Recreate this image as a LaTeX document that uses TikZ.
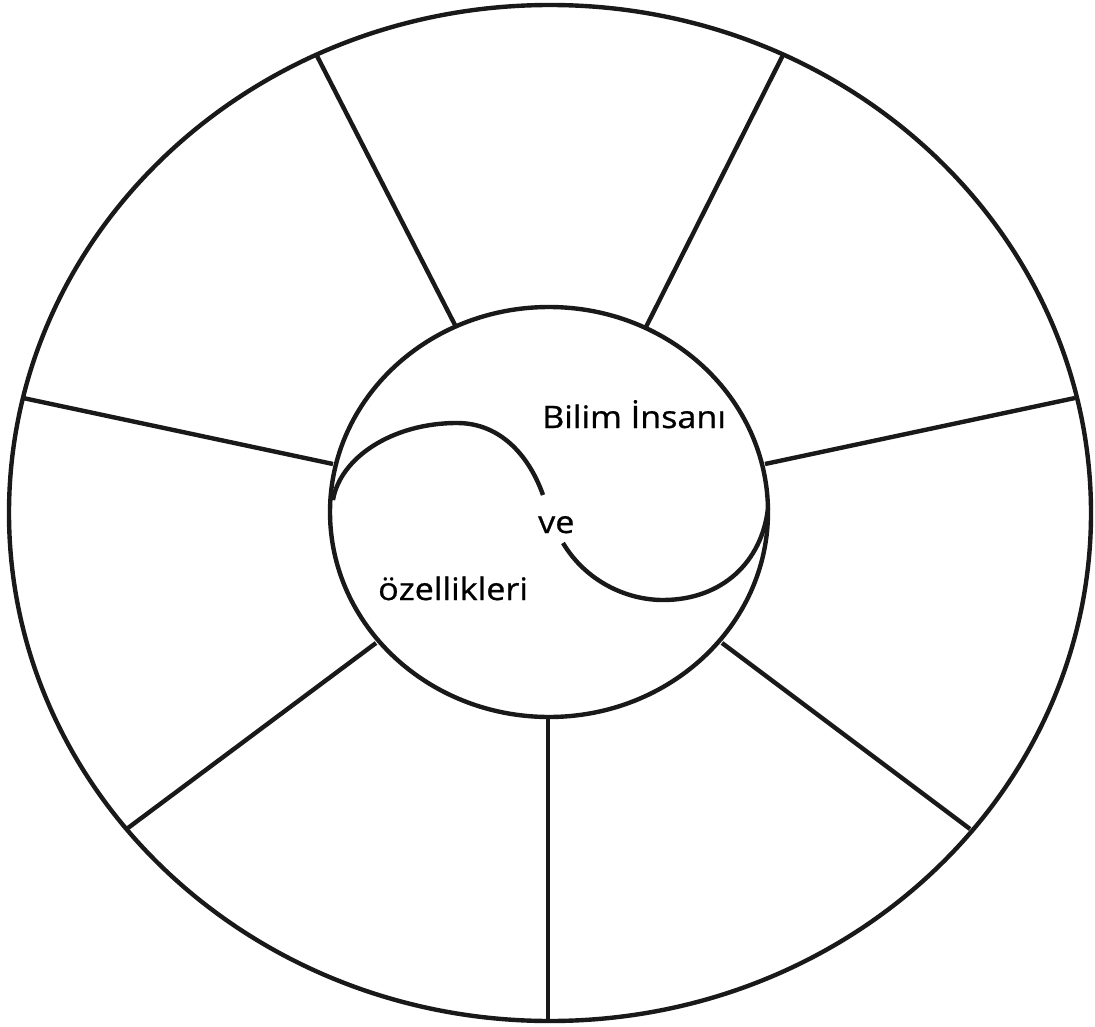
\documentclass[tikz,border=0pt]{standalone}
\usepackage{fontspec}
\newfontfamily\lblfont[FakeStretch=1.1,FakeBold=0.8]{Open Sans}
\begin{document}
\begin{tikzpicture}[x=1pt,y=-1pt,
  line/.style={line width=4.4pt,black!90},
  lbl/.style={inner sep=0pt,anchor=base west,font=\lblfont\fontsize{31}{36}\selectfont,text=black}]
\useasboundingbox (0,0) rectangle (1095,1027);
% centres
\coordinate (oc) at (550,513);
\coordinate (ic) at (549,512);
% outer and inner ellipses
\draw[line] (oc) ellipse [x radius=541, y radius=508];
\draw[line] (ic) ellipse [x radius=219, y radius=205];
% spoke end points
\coordinate (o1) at (316,54);   \coordinate (i1) at (455,325);
\coordinate (o2) at (783,55);   \coordinate (i2) at (646,327);
\coordinate (o3) at (23,398);   \coordinate (i3) at (333,464);
\coordinate (o4) at (1075,398); \coordinate (i4) at (765,464);
\coordinate (o5) at (128,828);  \coordinate (i5) at (376,643);
\coordinate (o6) at (970,829);  \coordinate (i6) at (722,643);
\coordinate (o7) at (548,1021); \coordinate (i7) at (548,717);
\foreach \k in {1,...,7} \draw[line] (o\k) -- (i\k);
% S curve
\coordinate (s1) at (333,500);
\coordinate (s2) at (457,423);
\coordinate (s3) at (543,495);
\coordinate (t1) at (563,543);
\coordinate (t2) at (663,600);
\coordinate (t3) at (768,508);
\draw[line] (s1) .. controls (340,458) and (392,423) .. (s2)
               .. controls (502,423) and (530,458) .. (s3);
\draw[line] (t1) .. controls (585,580) and (625,600) .. (t2)
               .. controls (722,600) and (762,562) .. (t3);
% labels
\node[lbl] (a) at (542,428) {Bilim İnsanı};
\node[lbl] (b) at (538,533) {ve};
\node[lbl] (c) at (378,600) {özellikleri};
\end{tikzpicture}
\end{document}
